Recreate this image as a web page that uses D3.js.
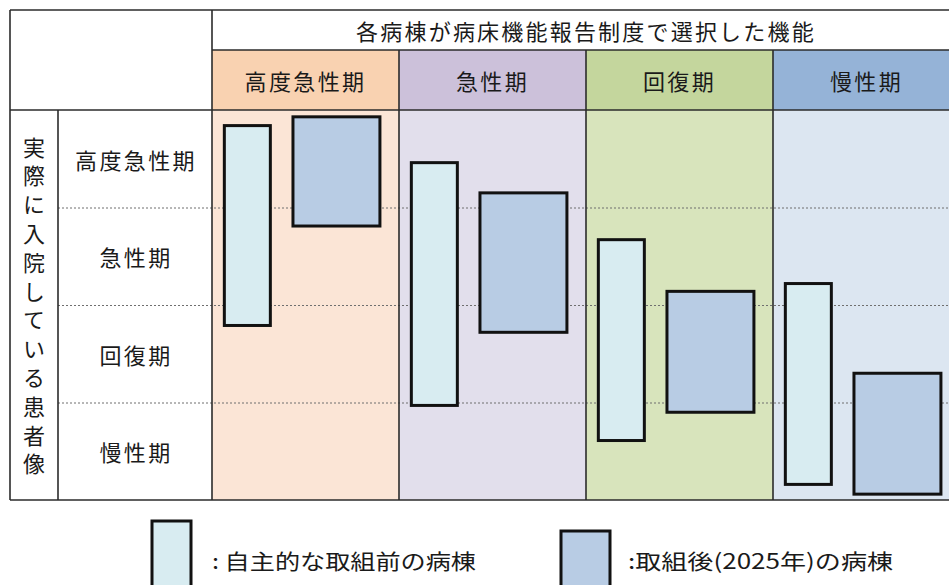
<!DOCTYPE html>
<html>
<head>
<meta charset="utf-8">
<script src="https://cdn.jsdelivr.net/npm/d3@7"></script>
<style>
  body { margin: 0; background: #fff; }
  svg { display: block; }
  text { font-family: "Noto Sans CJK JP", sans-serif; fill: #1a1a1a; }
</style>
</head>
<body>
<div id="chart"></div>
<script>
// functions chosen in the bed function report (columns)
const functions = ["高度急性期", "急性期", "回復期", "慢性期"];
// actual patient state (rows)
const patientStates = ["高度急性期", "急性期", "回復期", "慢性期"];

// range of patients per ward, in row units (0 = top of 高度急性期 row)
const beforeStart = [0.16, 0.54, 1.33, 1.78];
const beforeEnd = [2.21, 3.03, 3.39, 3.84];
const afterStart = [0.07, 0.85, 1.86, 2.70];
const afterEnd = [1.19, 2.28, 3.10, 3.94];

const title = "各病棟が病床機能報告制度で選択した機能";
const sideLabel = "実際に入院している患者像";
const legendLabels = [":  自主的な取組前の病棟", ":取組後(2025年)の病棟"];

const headerColors = ["#f9d2b1", "#ccc1da", "#c4d69d", "#95b3d7"];
const bodyColors = ["#fbe5d6", "#e2dfec", "#d8e4bc", "#dce6f1"];
const barColors = ["#d8ecf1", "#b8cce4"];

const W = 949, H = 585;
const svg = d3.select("#chart").append("svg")
  .attr("width", W).attr("height", H);

const tLeft = 10, tTop = 10, sideW = 58, labelR = 212;
const headTop = 50, bodyTop = 110, bodyBottom = 500;

const x = d3.scaleBand().domain(functions).range([labelR, labelR + 187 * 4]);
const y = d3.scaleLinear().domain([0, patientStates.length]).range([bodyTop, bodyBottom]);
// position inside a column, 0..1
const inner = d3.scaleLinear().domain([0, 1]).range([0, x.bandwidth()]);

// column backgrounds
svg.selectAll(".head-bg").data(functions).enter().append("rect")
  .attr("x", d => x(d)).attr("y", headTop)
  .attr("width", x.bandwidth()).attr("height", bodyTop - headTop)
  .attr("fill", (d, i) => headerColors[i]);

svg.selectAll(".body-bg").data(functions).enter().append("rect")
  .attr("x", d => x(d)).attr("y", bodyTop)
  .attr("width", x.bandwidth()).attr("height", bodyBottom - bodyTop)
  .attr("fill", (d, i) => bodyColors[i]);

// dotted row separators
svg.selectAll(".row-line").data(d3.range(1, patientStates.length)).enter().append("line")
  .attr("x1", sideW).attr("x2", W)
  .attr("y1", d => y(d) + 0.5).attr("y2", d => y(d) + 0.5)
  .attr("stroke", "#6f6f6f").attr("stroke-width", 1)
  .attr("stroke-dasharray", "2,2");

// table grid
const grid = svg.append("g").attr("stroke", "#2b2b2b").attr("stroke-width", 1.6);
grid.append("line").attr("x1", tLeft).attr("x2", W).attr("y1", tTop).attr("y2", tTop);
grid.append("line").attr("x1", labelR).attr("x2", W).attr("y1", headTop).attr("y2", headTop);
grid.append("line").attr("x1", tLeft).attr("x2", W).attr("y1", bodyTop).attr("y2", bodyTop);
grid.append("line").attr("x1", tLeft).attr("x2", W).attr("y1", bodyBottom).attr("y2", bodyBottom);
grid.append("line").attr("x1", tLeft).attr("x2", tLeft).attr("y1", tTop).attr("y2", bodyBottom);
grid.append("line").attr("x1", sideW).attr("x2", sideW).attr("y1", bodyTop).attr("y2", bodyBottom);
grid.append("line").attr("x1", labelR).attr("x2", labelR).attr("y1", tTop).attr("y2", bodyBottom);
grid.selectAll(".col-line").data(functions.slice(1)).enter().append("line")
  .attr("x1", d => x(d)).attr("x2", d => x(d))
  .attr("y1", headTop).attr("y2", bodyBottom);

// bars
const bars = svg.append("g").attr("stroke", "#111").attr("stroke-width", 3);
bars.selectAll(".before").data(functions).enter().append("rect")
  .attr("x", d => x(d) + inner(0.066))
  .attr("width", inner(0.246))
  .attr("y", (d, i) => y(beforeStart[i]))
  .attr("height", (d, i) => y(beforeEnd[i]) - y(beforeStart[i]))
  .attr("fill", barColors[0]);

bars.selectAll(".after").data(functions).enter().append("rect")
  .attr("x", d => x(d) + inner(0.433))
  .attr("width", inner(0.465))
  .attr("y", (d, i) => y(afterStart[i]))
  .attr("height", (d, i) => y(afterEnd[i]) - y(afterStart[i]))
  .attr("fill", barColors[1]);

// title and headers
const tableRight = x.range()[1];
svg.append("text")
  .attr("x", (labelR + tableRight) / 2).attr("y", (tTop + headTop) / 2)
  .attr("text-anchor", "middle").attr("dominant-baseline", "central")
  .attr("font-size", 22).attr("letter-spacing", 2.2)
  .text(title);

svg.selectAll(".head-label").data(functions).enter().append("text")
  .attr("x", d => x(d) + x.bandwidth() / 2)
  .attr("y", (headTop + bodyTop) / 2)
  .attr("text-anchor", "middle").attr("dominant-baseline", "central")
  .attr("font-size", 22).attr("letter-spacing", 2.4)
  .text(d => d);

// row labels
svg.selectAll(".row-label").data(patientStates).enter().append("text")
  .attr("x", (sideW + labelR) / 2 + 1)
  .attr("y", (d, i) => y(i + 0.5))
  .attr("text-anchor", "middle").attr("dominant-baseline", "central")
  .attr("font-size", 22).attr("letter-spacing", 2.4)
  .text(d => d);

// vertical side label, one text in vertical writing mode
svg.append("text")
  .attr("x", (tLeft + sideW) / 2)
  .attr("y", (bodyTop + bodyBottom) / 2 + 4)
  .attr("text-anchor", "middle")
  .style("writing-mode", "vertical-rl")
  .attr("font-size", 22).attr("letter-spacing", 6.8)
  .text(sideLabel);

// legend
const legendX = [152, 561], legendW = [39, 49], legendY = [521, 531];
const legendTextX = [212, 628], legendTextW = [264, 265];
const legend = svg.selectAll(".legend").data(legendLabels).enter().append("g");
legend.append("rect")
  .attr("x", (d, i) => legendX[i]).attr("y", (d, i) => legendY[i])
  .attr("width", (d, i) => legendW[i]).attr("height", 80)
  .attr("fill", (d, i) => barColors[i])
  .attr("stroke", "#111").attr("stroke-width", 3);
legend.append("text")
  .attr("x", (d, i) => legendTextX[i]).attr("y", 560)
  .attr("dominant-baseline", "central")
  .attr("font-size", 21)
  .attr("textLength", (d, i) => legendTextW[i])
  .attr("lengthAdjust", "spacingAndGlyphs")
  .text(d => d);
</script>
</body>
</html>
